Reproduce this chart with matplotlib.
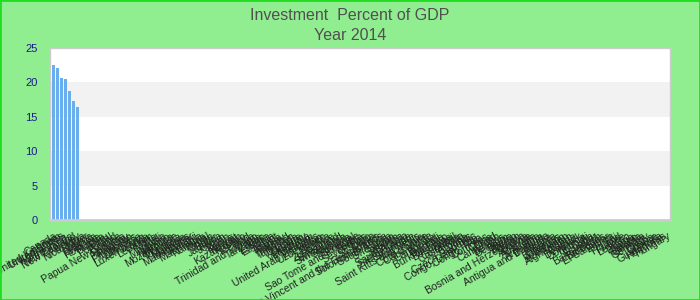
import matplotlib.pyplot as plt
import matplotlib.patches as patches
import numpy as np

plt.rcParams['font.family'] = ['Liberation Sans', 'DejaVu Sans']

countries = [
    "Canada", "United Kingdom", "United States", "Korea, Rep.", "Netherlands",
    "New Zealand", "Norway", "Nicaragua", "Niger", "Nigeria", "Rwanda",
    "Romania", "Russia", "Peru", "Portugal", "Poland",
    "Papua New Guinea", "Panama", "Paraguay", "Pakistan", "Philippines",
    "Lithuania", "Luxembourg", "Latvia", "Lebanon", "Malta", "Mali",
    "Malaysia", "Mexico", "Morocco", "Mozambique", "Mongolia", "Moldova",
    "Mauritius", "Madagascar", "Malawi", "Mauritania", "Namibia", "Nepal",
    "Oman", "Qatar", "Jamaica", "Jordan", "Japan", "Kenya", "Kuwait",
    "Kazakhstan", "Kosovo", "Iceland", "India",
    "Trinidad and Tobago", "Tanzania", "Togo", "Estonia", "Ethiopia", "Egypt",
    "Tunisia", "Turkey", "Thailand", "Tajikistan", "Uganda", "Ukraine",
    "Uruguay", "Venezuela", "Vietnam", "United Arab Emirates", "Uzbekistan",
    "Yemen", "Zambia", "Zimbabwe", "Swaziland", "Switzerland", "Slovenia",
    "Slovakia", "Senegal", "Sao Tome and Principe", "Serbia",
    "Seychelles", "Spain", "St. Lucia", "Saint Vincent and the Grenadines",
    "Solomon Islands", "South Africa", "Sri Lanka", "Sudan", "Sweden", "Samoa",
    "Saudi Arabia", "Sierra Leone", "Singapore", "Saint Kitts and Nevis",
    "Chile", "Cote d'Ivoire", "Cabo Verde", "Cambodia", "Burundi", "Bulgaria",
    "Burkina Faso", "Botswana", "Brazil", "Colombia", "Costa Rica", "Croatia",
    "Cyprus", "Czech Republic", "Congo, Dem. Rep.", "Congo, Rep.", "Comoros",
    "China", "Chad", "Cameroon", "Belarus", "Belgium",
    "Belize", "Benin", "Bhutan", "Bosnia and Herzegovina", "Bolivia",
    "Armenia", "Australia", "Austria", "Argentina", "Antigua and Barbuda",
    "Angola", "Albania", "Bahamas", "Bahrain", "Azerbaijan", "Afghanistan",
    "Algeria", "Denmark", "Dominica", "Djibouti", "Cuba",
    "Ecuador", "Bangladesh", "Barbados", "El Salvador", "Eritrea", "Fiji",
    "Finland", "France", "Lesotho", "Liberia", "Gabon", "Gambia", "Georgia",
    "Germany", "Ghana", "Greece", "Guatemala", "Honduras", "Hungary",
]

# only the first countries have a value for 2014
values = [22.5, 22.1, 20.6, 20.5, 18.7, 17.3, 16.4]

title = "Investment  Percent of GDP\nYear 2014"
yticks = [0, 5, 10, 15, 20, 25]

heights = values + [np.nan] * (len(countries) - len(values))
x = np.arange(len(countries))

fig = plt.figure(figsize=(7, 3), dpi=100, facecolor='#90ee90')
ax = fig.add_axes([50 / 700, 80 / 300, 620 / 700, 172 / 300])
ax.set_facecolor('white')

# alternating grey bands
for lo in range(0, 25, 5):
    if (lo // 5) % 2 == 1:
        ax.axhspan(lo, lo + 5, color='#f2f2f2', zorder=0, lw=0)

ax.bar(x, heights, width=0.75, color='#6aaeee', zorder=2)

ax.set_xlim(-0.85, len(countries) - 0.3)
ax.set_ylim(0, 25)
ax.set_yticks(yticks)
ax.set_yticklabels([str(t) for t in yticks], color='#1a1a8c', fontsize=8)
ax.set_xticks(x)
ax.set_xticklabels(countries, rotation=30, ha='right', va='top',
                   rotation_mode='anchor', fontsize=7.5, color='#222222')
ax.tick_params(axis='both', length=0)
ax.tick_params(axis='x', pad=8)
ax.tick_params(axis='y', pad=9)

for s in ax.spines.values():
    s.set_color('#cccccc')
    s.set_linewidth(1)
ax.spines['bottom'].set_linewidth(2)

fig.suptitle(title, y=0.975, fontsize=11.5, color='#505050', linespacing=1.45)

fig.patches.append(patches.Rectangle((0, 0), 1, 1, transform=fig.transFigure,
                                     fill=False, edgecolor='#22dd22', lw=2))

fig.savefig('out.png', dpi=100, facecolor=fig.get_facecolor())
